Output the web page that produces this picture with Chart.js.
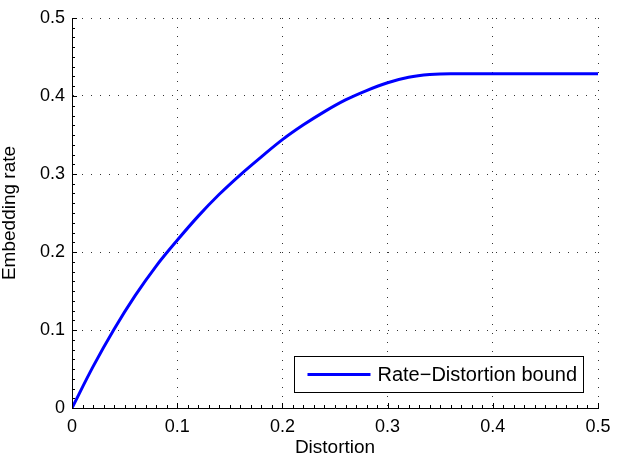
<!DOCTYPE html>
<html>
<head>
<meta charset="utf-8">
<script src="https://cdn.jsdelivr.net/npm/chart.js@4.4.1/dist/chart.umd.min.js"></script>
<style>
  html, body { margin: 0; padding: 0; background: #fff; }
  canvas { display: block; }
</style>
</head>
<body>
<canvas id="graficoRD" width="619" height="459"></canvas>
<script>
// dados
const distortion = [0, 0.02, 0.04, 0.06, 0.08, 0.10, 0.12, 0.14, 0.16, 0.18, 0.20,
                    0.22, 0.24, 0.26, 0.28, 0.30, 0.32, 0.34, 0.36, 0.38, 0.42, 0.46, 0.50];
const embeddingRate = [0, 0.053, 0.101, 0.144, 0.182, 0.215, 0.246, 0.274, 0.299, 0.322, 0.344,
                       0.363, 0.380, 0.395, 0.407, 0.417, 0.424, 0.4275, 0.4286, 0.4286, 0.4286, 0.4286, 0.4286];
const xTicks = [0, 0.1, 0.2, 0.3, 0.4, 0.5];
const yTicks = [0, 0.1, 0.2, 0.3, 0.4, 0.5];
const serieLabel = 'Rate\u2212Distortion bound';

const fonte = 'Liberation Sans, Arial, Helvetica, sans-serif';

// marcas menores e maiores para dentro do eixo (estilo MATLAB)
const marcasEixo = {
    id: 'marcasEixo',
    afterDatasetsDraw(chart) {
        const { ctx, chartArea: a, scales: { x, y } } = chart;
        ctx.save();
        ctx.strokeStyle = '#000';
        ctx.lineWidth = 1;
        ctx.beginPath();
        for (let i = 0; i <= 50; i++) {
            const px = Math.round(x.getPixelForValue(i * 0.01)) + 0.5;
            const len = i % 10 === 0 ? 5 : 3;
            ctx.moveTo(px, a.bottom);
            ctx.lineTo(px, a.bottom - len);
        }
        for (let i = 0; i <= 40; i++) {
            const py = Math.round(y.getPixelForValue(i * 0.0125)) + 0.5;
            const len = i % 8 === 0 ? 5 : 3;
            ctx.moveTo(a.left, py);
            ctx.lineTo(a.left + len, py);
        }
        ctx.stroke();
        ctx.restore();
    },
    afterDraw(chart) {
        // legenda dentro do gráfico, canto inferior direito
        const { ctx, chartArea: a } = chart;
        const ds = chart.data.datasets[0];
        ctx.save();
        ctx.font = '20px ' + fonte;
        const tw = ctx.measureText(ds.label).width;
        const w = 13 + 63 + 7 + tw + 6;
        const h = 36;
        const right = a.right - 15;
        const bottom = a.bottom - 16;
        const left = Math.round(right - w) + 0.5;
        const top = Math.round(bottom - h) + 0.5;
        ctx.fillStyle = '#fff';
        ctx.fillRect(left, top, right - left, h);
        ctx.strokeStyle = '#000';
        ctx.lineWidth = 1;
        ctx.strokeRect(left, top, Math.round(right - left), h);
        const cy = top + h / 2;
        ctx.strokeStyle = ds.borderColor;
        ctx.lineWidth = ds.borderWidth;
        ctx.beginPath();
        ctx.moveTo(left + 13, cy);
        ctx.lineTo(left + 76, cy);
        ctx.stroke();
        ctx.fillStyle = '#000';
        ctx.textBaseline = 'middle';
        ctx.fillText(ds.label, left + 83, cy + 1);
        ctx.restore();
    }
};

const ctx = document.getElementById('graficoRD').getContext('2d');

new Chart(ctx, {
    type: 'line',
    data: {
        datasets: [{
            label: serieLabel,
            data: distortion.map((d, i) => ({ x: d, y: embeddingRate[i] })),
            borderColor: '#0000ff',
            borderWidth: 3,
            pointRadius: 0,
            cubicInterpolationMode: 'monotone',
            fill: false
        }]
    },
    options: {
        responsive: false,
        animation: false,
        maintainAspectRatio: false,
        layout: { padding: { top: 18, right: 21, left: 0, bottom: 0 } },
        plugins: {
            legend: { display: false },
            tooltip: { enabled: false }
        },
        scales: {
            x: {
                type: 'linear',
                min: 0,
                max: 0.5,
                afterFit: s => { s.height = 51; },
                afterBuildTicks: s => { s.ticks = xTicks.map(v => ({ value: v })); },
                border: { display: true, color: '#000', width: 1, dash: [1, 8] },
                grid: { color: '#333', lineWidth: 1, drawTicks: false },
                ticks: {
                    color: '#000',
                    padding: 8,
                    maxRotation: 0,
                    font: { family: fonte, size: 18 },
                    callback: v => String(v)
                },
                title: {
                    display: true,
                    text: 'Distortion',
                    color: '#000',
                    padding: 0,
                    font: { family: fonte, size: 19 }
                }
            },
            y: {
                type: 'linear',
                min: 0,
                max: 0.5,
                afterFit: s => { s.width = 72; },
                afterBuildTicks: s => { s.ticks = yTicks.map(v => ({ value: v })); },
                border: { display: true, color: '#000', width: 1, dash: [1, 8] },
                grid: { color: '#333', lineWidth: 1, drawTicks: false },
                ticks: {
                    color: '#000',
                    padding: 7,
                    font: { family: fonte, size: 18 },
                    callback: v => String(v)
                },
                title: {
                    display: true,
                    text: 'Embedding rate',
                    color: '#000',
                    padding: { top: -2, bottom: 0 },
                    font: { family: fonte, size: 19 }
                }
            }
        }
    },
    plugins: [marcasEixo]
});
</script>
</body>
</html>
